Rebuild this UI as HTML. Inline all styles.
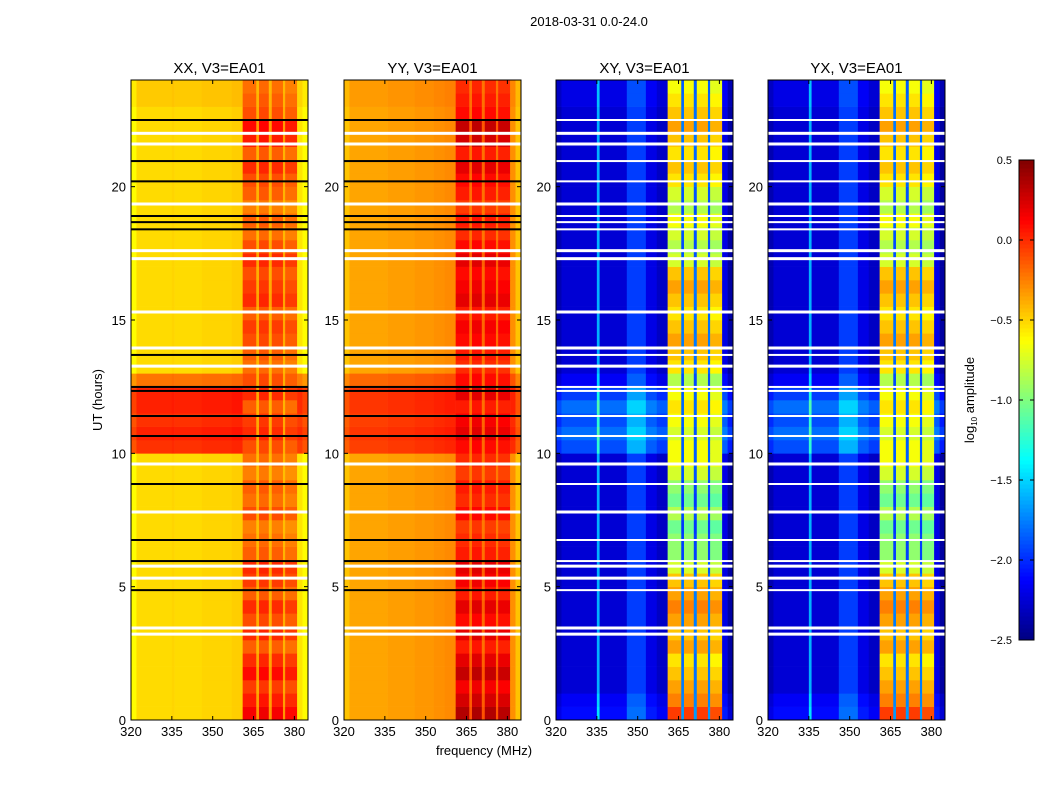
<!DOCTYPE html>
<html><head><meta charset="utf-8"><style>
body{margin:0;background:#fff;font-family:"Liberation Sans",sans-serif}
svg text{font-family:"Liberation Sans","DejaVu Sans",sans-serif;fill:#000}
</style></head><body>
<svg id="fig" width="1050" height="800" viewBox="0 0 1050 800" xmlns="http://www.w3.org/2000/svg">
<rect width="1050" height="800" fill="#fff"/>
<text x="589" y="26" font-size="13" text-anchor="middle">2018-03-31 0.0-24.0</text>
<text x="484" y="755" font-size="13" text-anchor="middle">frequency (MHz)</text>
<text transform="translate(102,400) rotate(-90)" font-size="13" text-anchor="middle">UT (hours)</text>
<g id="panels"></g>
<g id="cbar"></g>
</svg>
<script>
// ---- data ----
const panelTitles = ["XX, V3=EA01","YY, V3=EA01","XY, V3=EA01","YX, V3=EA01"];
const xTicks = [320,335,350,365,380];
const yTicks = [0,5,10,15,20];
const cbarTicks = [0.5,0.0,-0.5,-1.0,-1.5,-2.0,-2.5];
// spectral segments (MHz edges) and log10 amplitude per segment
const segEdges = [320,322,335,336,346,353,357,361,366,367,370.6,371.7,375.8,376.6,381,383,385];
const specXX = [-0.62,-0.52,-0.50,-0.52,-0.50,-0.50,-0.48,-0.30,-0.45,-0.28,-0.45,-0.30,-0.45,-0.35,-0.55,-0.62];
const specYY = [-0.45,-0.36,-0.36,-0.34,-0.32,-0.30,-0.28,-0.10,-0.25,-0.08,-0.25,-0.10,-0.25,-0.12,-0.30,-0.45];
const specXY = [-2.35,-2.25,-1.6,-2.25,-1.95,-2.2,-2.3,-1.15,-2.0,-1.15,-2.0,-1.15,-2.0,-1.2,-2.2,-2.4];
const specYX = [-2.35,-2.25,-1.6,-2.25,-1.95,-2.2,-2.3,-1.15,-2.0,-1.15,-2.0,-1.15,-2.0,-1.2,-2.2,-2.4];
// per half-hour row offsets (0h .. 23.5h)
const rfiOffset = [0.45,0.35,0.25,0.4,0.3,0.15,0.3,0.2,0.3,0.15,0.25,0.3,0.15,0.1,0.05,0.2,0.1,0.15,0.05,0.1,0.2,0.3,0.25,0.15,
                   0.3,0.2,0.1,0.15,0.2,0.25,0.15,0.3,0.25,0.2,0.3,0.2,0.1,0.15,0.05,0.15,0.2,0.3,0.15,0.35,0.4,0.2,0.15,0.1];
const xyRfiOffset = [1.1,0.9,0.8,0.7,0.6,0.8,0.7,0.8,0.9,0.8,0.7,0.4,0.2,0.2,0.1,0.3,0.1,0.2,0.4,0.5,0.5,0.4,0.5,0.6,
                     0.5,0.3,0.6,0.7,0.8,0.7,0.6,0.7,0.8,0.7,0.4,0.3,0.4,0.5,0.3,0.4,0.6,0.7,0.6,0.7,0.8,0.7,0.6,0.5];
const baseOffset = [0,0,0,0,0,0,0,0,0,0,0,0,0,0,0,0,0,0,0,0,0.5,0.55,0.5,0.55,0.55,0.3,0,0,0,0,0,0,0,0,0,0,0,0,0,0,0,0,0,0,0,0,0.05,0.05];
const xyBaseOffset = [0.15,0.1,0,0,0,0,0,0,0,0,0,0,0,0,0,0,0,0,0,0,0.35,0.45,0.35,0.45,0.3,0.1,0,0,0,0,0,0,0,0,0,0,0,0,0,0,0,0,0,0,0,0,0.05,0.05];
const whiteFlags = [3.22,3.45,5.32,5.77,7.8,9.6,13.27,13.95,15.3,17.6,17.3,19.35,21.6,22.0];
const blackFlags = [4.87,5.96,6.75,8.85,10.65,11.4,12.34,12.49,13.69,18.4,18.67,18.9,20.2,20.96,22.5];
const specs = [specXX,specYY,specXY,specYX];
// ---- rendering ----
const NS="http://www.w3.org/2000/svg";
const px=[131,344,556,768], PY=80, PW=177, PH=640, FMIN=320, FMAX=385, TMAX=24;
function jet(v){v=Math.max(-2.5,Math.min(0.5,v));const t=(v+2.5)/3;
 const r=Math.min(4*t-1.5,-4*t+4.5),g=Math.min(4*t-0.5,-4*t+3.5),b=Math.min(4*t+0.5,-4*t+2.5);
 const c=x=>Math.round(255*Math.max(0,Math.min(1,x)));return `rgb(${c(r)},${c(g)},${c(b)})`;}
function mk(tag,attrs,parent){const e=document.createElementNS(NS,tag);for(const k in attrs)e.setAttribute(k,attrs[k]);parent.appendChild(e);return e;}
const panels=document.getElementById('panels');
for(let p=0;p<4;p++){
 const x0=px[p];
 const xs=f=>x0+(f-FMIN)*PW/(FMAX-FMIN);
 const ys=h=>PY+PH-h*PH/TMAX;
 const g=mk('g',{},panels);
 
 
 const hm=mk('g',{},g);
 
 
 const spec=specs[p], bo=p<2?baseOffset:xyBaseOffset, ro=p<2?rfiOffset:xyRfiOffset;
 for(let r=0;r<ro.length;r++){
  const h0=r*0.5,h1=h0+0.5;
  for(let s=0;s<spec.length;s++){
   const rfi=segEdges[s]>=361&&segEdges[s]<381;
   const band=rfi&&(s%2===1);
   const v=spec[s]+(band?ro[r]:(rfi?ro[r]*0.3:bo[r]*(p===1?0.6:1)));
   const c=mk('rect',{x:xs(segEdges[s]).toFixed(2),y:ys(h1).toFixed(2),width:(xs(segEdges[s+1])-xs(segEdges[s])+0.3).toFixed(2),height:(PH/48+0.3).toFixed(2),fill:jet(v)},hm);
   
   
  }
 }
 whiteFlags.forEach(h=>{const e=mk('rect',{x:x0,y:ys(h)-1.5,width:PW,height:3,fill:'#fff'},g);
  
  });
 blackFlags.forEach(h=>{const e=mk('rect',{x:x0,y:ys(h)-1,width:PW,height:2,fill:p<2?'#000':'#fff'},g);
  
  });
 const fr=mk('rect',{x:x0,y:PY,width:PW,height:PH,fill:'none',stroke:'#000','stroke-width':1},g);
 
 
 const t=mk('text',{x:x0+PW/2,y:PY-7,'font-size':15,'text-anchor':'middle'},g);t.textContent=panelTitles[p];
 
 
 xTicks.forEach(f=>{const X=xs(f);mk('line',{x1:X,x2:X,y1:PY+PH,y2:PY+PH-4,stroke:'#000'},g);mk('line',{x1:X,x2:X,y1:PY,y2:PY+4,stroke:'#000'},g);
  const l=mk('text',{x:X,y:PY+PH+16,'font-size':13,'text-anchor':'middle'},g);l.textContent=f;
  
  });
 yTicks.forEach(h=>{const Y=ys(h);mk('line',{x1:x0,x2:x0+4,y1:Y,y2:Y,stroke:'#000'},g);mk('line',{x1:x0+PW,x2:x0+PW-4,y1:Y,y2:Y,stroke:'#000'},g);
  const l=mk('text',{x:x0-5,y:Y+5,'font-size':13,'text-anchor':'end'},g);l.textContent=h;
  
  });
}
// colorbar
const cb=document.getElementById('cbar');
const CX=1019,CY=160,CW=15,CH=480,VMIN=-2.5,VMAX=0.5;
const cy=v=>CY+CH-(v-VMIN)/(VMAX-VMIN)*CH;
for(let i=0;i<120;i++){const v=VMIN+(i+0.5)*(VMAX-VMIN)/120;
 mk('rect',{x:CX,y:cy(VMIN+(i+1)*(VMAX-VMIN)/120),width:CW,height:CH/120+0.5,fill:jet(v)},cb);}
mk('rect',{x:CX,y:CY,width:CW,height:CH,fill:'none',stroke:'#000'},cb);
cbarTicks.forEach(v=>{const Y=cy(v);mk('line',{x1:CX,x2:CX+4,y1:Y,y2:Y,stroke:'#000'},cb);mk('line',{x1:CX+CW,x2:CX+CW-4,y1:Y,y2:Y,stroke:'#000'},cb);
 const l=mk('text',{x:CX-7,y:Y+4,'font-size':11,'text-anchor':'end'},cb);l.textContent=v.toFixed(1).replace('-','\u2212');
 
 });
const cl=mk('text',{transform:'translate(974,400) rotate(-90)','font-size':13,'text-anchor':'middle'},cb);
cl.innerHTML='log<tspan font-size="8" dy="3">10</tspan><tspan dy="-3"> amplitude</tspan>';


</script>
</body></html>
